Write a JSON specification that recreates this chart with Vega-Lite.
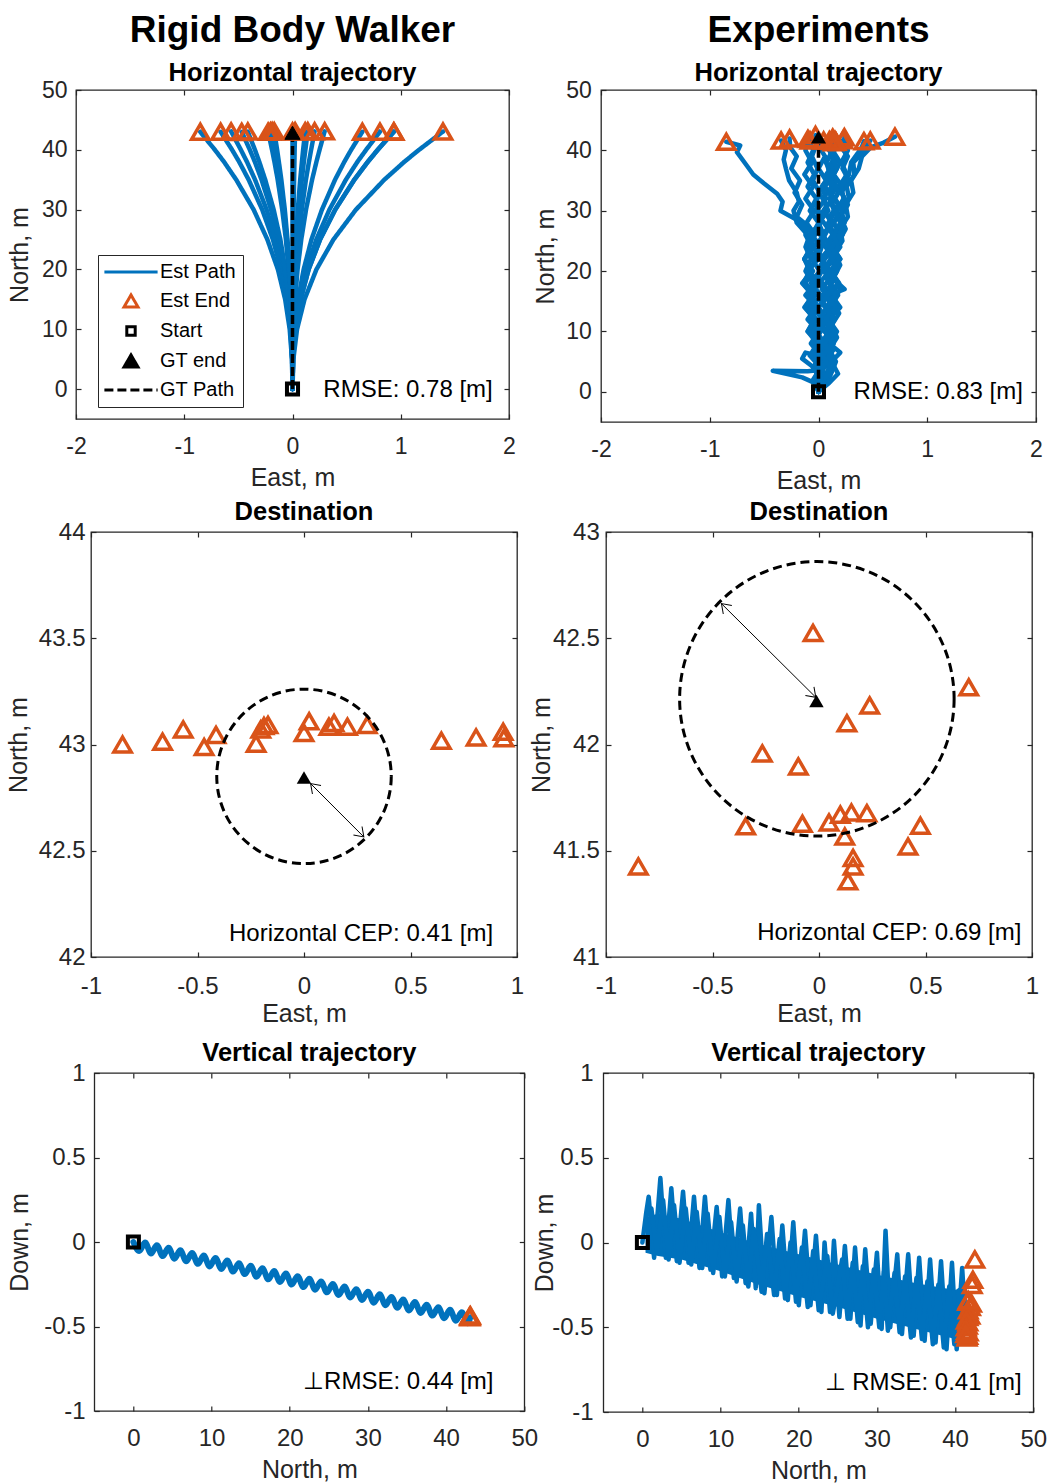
{
"$schema": "https://vega.github.io/schema/vega-lite/v6.json",
"padding": {"left": 5, "top": 10, "right": 5, "bottom": 0},
"background": "white",
"datasets": {
"tl": [
{"t":1,"e":0,"n":0},{"t":1,"e":-0.005,"n":5},{"t":1,"e":-0.026,"n":10},{"t":1,"e":-0.068,"n":15},{"t":1,"e":-0.135,"n":20},{"t":1,"e":-0.232,"n":25},{"t":1,"e":-0.359,"n":30},{"t":1,"e":-0.52,"n":35},{"t":1,"e":-0.633,"n":38},{"t":1,"e":-0.717,"n":40},{"t":1,"e":-0.852,"n":43.0},
{"t":2,"e":0,"n":0},{"t":2,"e":-0.004,"n":5},{"t":2,"e":-0.02,"n":10},{"t":2,"e":-0.053,"n":15},{"t":2,"e":-0.106,"n":20},{"t":2,"e":-0.181,"n":25},{"t":2,"e":-0.28,"n":30},{"t":2,"e":-0.405,"n":35},{"t":2,"e":-0.493,"n":38},{"t":2,"e":-0.558,"n":40},{"t":2,"e":-0.664,"n":43.013},
{"t":3,"e":0,"n":0},{"t":3,"e":-0.003,"n":5},{"t":3,"e":-0.017,"n":10},{"t":3,"e":-0.045,"n":15},{"t":3,"e":-0.09,"n":20},{"t":3,"e":-0.154,"n":25},{"t":3,"e":-0.239,"n":30},{"t":3,"e":-0.346,"n":35},{"t":3,"e":-0.421,"n":38},{"t":3,"e":-0.477,"n":40},{"t":3,"e":-0.567,"n":43.071},
{"t":4,"e":0,"n":0},{"t":4,"e":-0.003,"n":5},{"t":4,"e":-0.014,"n":10},{"t":4,"e":-0.038,"n":15},{"t":4,"e":-0.075,"n":20},{"t":4,"e":-0.128,"n":25},{"t":4,"e":-0.198,"n":30},{"t":4,"e":-0.286,"n":35},{"t":4,"e":-0.348,"n":38},{"t":4,"e":-0.394,"n":40},{"t":4,"e":-0.469,"n":42.988},
{"t":5,"e":0,"n":0},{"t":5,"e":-0.002,"n":5},{"t":5,"e":-0.012,"n":10},{"t":5,"e":-0.033,"n":15},{"t":5,"e":-0.066,"n":20},{"t":5,"e":-0.112,"n":25},{"t":5,"e":-0.174,"n":30},{"t":5,"e":-0.252,"n":35},{"t":5,"e":-0.307,"n":38},{"t":5,"e":-0.347,"n":40},{"t":5,"e":-0.413,"n":43.045},
{"t":6,"e":0,"n":0},{"t":6,"e":-0.001,"n":5},{"t":6,"e":-0.007,"n":10},{"t":6,"e":-0.018,"n":15},{"t":6,"e":-0.036,"n":20},{"t":6,"e":-0.061,"n":25},{"t":6,"e":-0.095,"n":30},{"t":6,"e":-0.137,"n":35},{"t":6,"e":-0.167,"n":38},{"t":6,"e":-0.189,"n":40},{"t":6,"e":-0.225,"n":43.004},
{"t":7,"e":0,"n":0},{"t":7,"e":-0.001,"n":5},{"t":7,"e":-0.006,"n":10},{"t":7,"e":-0.016,"n":15},{"t":7,"e":-0.032,"n":20},{"t":7,"e":-0.055,"n":25},{"t":7,"e":-0.086,"n":30},{"t":7,"e":-0.124,"n":35},{"t":7,"e":-0.151,"n":38},{"t":7,"e":-0.171,"n":40},{"t":7,"e":-0.203,"n":43.071},
{"t":8,"e":0,"n":0},{"t":8,"e":-0.001,"n":5},{"t":8,"e":-0.006,"n":10},{"t":8,"e":-0.015,"n":15},{"t":8,"e":-0.03,"n":20},{"t":8,"e":-0.051,"n":25},{"t":8,"e":-0.079,"n":30},{"t":8,"e":-0.115,"n":35},{"t":8,"e":-0.14,"n":38},{"t":8,"e":-0.158,"n":40},{"t":8,"e":-0.188,"n":43.087},
{"t":9,"e":0,"n":0},{"t":9,"e":-0.001,"n":5},{"t":9,"e":-0.005,"n":10},{"t":9,"e":-0.014,"n":15},{"t":9,"e":-0.027,"n":20},{"t":9,"e":-0.046,"n":25},{"t":9,"e":-0.071,"n":30},{"t":9,"e":-0.103,"n":35},{"t":9,"e":-0.126,"n":38},{"t":9,"e":-0.142,"n":40},{"t":9,"e":-0.169,"n":43.092},
{"t":10,"e":0,"n":0},{"t":10,"e":0,"n":43.054},
{"t":11,"e":0,"n":0},{"t":11,"e":0,"n":5},{"t":11,"e":0.001,"n":10},{"t":11,"e":0.002,"n":15},{"t":11,"e":0.004,"n":20},{"t":11,"e":0.007,"n":25},{"t":11,"e":0.01,"n":30},{"t":11,"e":0.015,"n":35},{"t":11,"e":0.018,"n":38},{"t":11,"e":0.02,"n":40},{"t":11,"e":0.024,"n":43.109},
{"t":12,"e":0,"n":0},{"t":12,"e":0.001,"n":5},{"t":12,"e":0.004,"n":10},{"t":12,"e":0.009,"n":15},{"t":12,"e":0.019,"n":20},{"t":12,"e":0.032,"n":25},{"t":12,"e":0.049,"n":30},{"t":12,"e":0.071,"n":35},{"t":12,"e":0.087,"n":38},{"t":12,"e":0.098,"n":40},{"t":12,"e":0.117,"n":43.084},
{"t":13,"e":0,"n":0},{"t":13,"e":0.001,"n":5},{"t":13,"e":0.004,"n":10},{"t":13,"e":0.011,"n":15},{"t":13,"e":0.022,"n":20},{"t":13,"e":0.038,"n":25},{"t":13,"e":0.059,"n":30},{"t":13,"e":0.086,"n":35},{"t":13,"e":0.105,"n":38},{"t":13,"e":0.119,"n":40},{"t":13,"e":0.141,"n":43.101},
{"t":14,"e":0,"n":0},{"t":14,"e":0.001,"n":5},{"t":14,"e":0.006,"n":10},{"t":14,"e":0.016,"n":15},{"t":14,"e":0.032,"n":20},{"t":14,"e":0.055,"n":25},{"t":14,"e":0.086,"n":30},{"t":14,"e":0.124,"n":35},{"t":14,"e":0.152,"n":38},{"t":14,"e":0.172,"n":40},{"t":14,"e":0.204,"n":43.084},
{"t":15,"e":0,"n":0},{"t":15,"e":0.002,"n":5},{"t":15,"e":0.009,"n":10},{"t":15,"e":0.024,"n":15},{"t":15,"e":0.047,"n":20},{"t":15,"e":0.081,"n":25},{"t":15,"e":0.125,"n":30},{"t":15,"e":0.181,"n":35},{"t":15,"e":0.221,"n":38},{"t":15,"e":0.25,"n":40},{"t":15,"e":0.297,"n":43.092},
{"t":16,"e":0,"n":0},{"t":16,"e":0.004,"n":5},{"t":16,"e":0.019,"n":10},{"t":16,"e":0.052,"n":15},{"t":16,"e":0.103,"n":20},{"t":16,"e":0.175,"n":25},{"t":16,"e":0.272,"n":30},{"t":16,"e":0.393,"n":35},{"t":16,"e":0.479,"n":38},{"t":16,"e":0.542,"n":40},{"t":16,"e":0.645,"n":43.018},
{"t":17,"e":0,"n":0},{"t":17,"e":0.005,"n":5},{"t":17,"e":0.024,"n":10},{"t":17,"e":0.065,"n":15},{"t":17,"e":0.128,"n":20},{"t":17,"e":0.22,"n":25},{"t":17,"e":0.341,"n":30},{"t":17,"e":0.493,"n":35},{"t":17,"e":0.6,"n":38},{"t":17,"e":0.68,"n":40},{"t":17,"e":0.808,"n":43.033},
{"t":18,"e":0,"n":0},{"t":18,"e":0.005,"n":5},{"t":18,"e":0.028,"n":10},{"t":18,"e":0.075,"n":15},{"t":18,"e":0.149,"n":20},{"t":18,"e":0.254,"n":25},{"t":18,"e":0.394,"n":30},{"t":18,"e":0.57,"n":35},{"t":18,"e":0.695,"n":38},{"t":18,"e":0.786,"n":40},{"t":18,"e":0.935,"n":43.06},
{"t":19,"e":0,"n":0},{"t":19,"e":0.005,"n":5},{"t":19,"e":0.028,"n":10},{"t":19,"e":0.075,"n":15},{"t":19,"e":0.149,"n":20},{"t":19,"e":0.255,"n":25},{"t":19,"e":0.395,"n":30},{"t":19,"e":0.572,"n":35},{"t":19,"e":0.697,"n":38},{"t":19,"e":0.789,"n":40},{"t":19,"e":0.938,"n":43.03},
{"t":20,"e":0,"n":0},{"t":20,"e":0.008,"n":5},{"t":20,"e":0.042,"n":10},{"t":20,"e":0.111,"n":15},{"t":20,"e":0.221,"n":20},{"t":20,"e":0.378,"n":25},{"t":20,"e":0.586,"n":30},{"t":20,"e":0.848,"n":35},{"t":20,"e":1.033,"n":38},{"t":20,"e":1.169,"n":40},{"t":20,"e":1.39,"n":43.05}
],
"tlEnd": [
{"e":-0.852,"n":43.0},{"e":-0.664,"n":43.013},{"e":-0.567,"n":43.071},{"e":-0.469,"n":42.988},{"e":-0.413,"n":43.045},{"e":-0.225,"n":43.004},{"e":-0.203,"n":43.071},{"e":-0.188,"n":43.087},{"e":-0.169,"n":43.092},{"e":0,"n":43.054},{"e":0.024,"n":43.109},{"e":0.117,"n":43.084},{"e":0.141,"n":43.101},{"e":0.204,"n":43.084},{"e":0.297,"n":43.092},{"e":0.645,"n":43.018},{"e":0.808,"n":43.033},{"e":0.935,"n":43.06},{"e":0.938,"n":43.03},{"e":1.39,"n":43.05}
],
"tr": [
{"t":1,"e":0,"n":0},{"t":1,"e":0.05,"n":1.5},{"t":1,"e":0.02,"n":3.2},{"t":1,"e":0.08,"n":5},{"t":1,"e":0.03,"n":7},{"t":1,"e":0.09,"n":9},{"t":1,"e":0.04,"n":11},{"t":1,"e":0.1,"n":13},{"t":1,"e":0.02,"n":15},{"t":1,"e":0.07,"n":17},{"t":1,"e":0.0,"n":19},{"t":1,"e":0.06,"n":21},{"t":1,"e":0.01,"n":23},{"t":1,"e":0.05,"n":25},{"t":1,"e":-0.02,"n":27},{"t":1,"e":0.03,"n":29},{"t":1,"e":-0.03,"n":31},{"t":1,"e":0.01,"n":33},{"t":1,"e":-0.05,"n":35},{"t":1,"e":-0.01,"n":37},{"t":1,"e":-0.06,"n":39},{"t":1,"e":-0.02,"n":41},{"t":1,"e":-0.028,"n":42.525},
{"t":2,"e":0,"n":0},{"t":2,"e":0.08,"n":1.5},{"t":2,"e":0.12,"n":3.2},{"t":2,"e":0.16,"n":5},{"t":2,"e":0.1,"n":7},{"t":2,"e":0.17,"n":9},{"t":2,"e":0.12,"n":11},{"t":2,"e":0.19,"n":13},{"t":2,"e":0.13,"n":15},{"t":2,"e":0.2,"n":17},{"t":2,"e":0.14,"n":19},{"t":2,"e":0.2,"n":21},{"t":2,"e":0.15,"n":23},{"t":2,"e":0.22,"n":25},{"t":2,"e":0.2,"n":27},{"t":2,"e":0.27,"n":29},{"t":2,"e":0.25,"n":31},{"t":2,"e":0.32,"n":33},{"t":2,"e":0.3,"n":35},{"t":2,"e":0.37,"n":37},{"t":2,"e":0.4,"n":39},{"t":2,"e":0.48,"n":40.5},{"t":2,"e":0.6,"n":41.3},{"t":2,"e":0.703,"n":42.269},
{"t":3,"e":0,"n":0},{"t":3,"e":0.0,"n":1.2},{"t":3,"e":-0.15,"n":2.4},{"t":3,"e":-0.42,"n":3.5},{"t":3,"e":-0.1,"n":3.4},{"t":3,"e":0.02,"n":3.6},{"t":3,"e":0.1,"n":4.6},{"t":3,"e":0.05,"n":6},{"t":3,"e":0.14,"n":8},{"t":3,"e":0.08,"n":10},{"t":3,"e":0.15,"n":12},{"t":3,"e":0.1,"n":14},{"t":3,"e":0.18,"n":16},{"t":3,"e":0.11,"n":18},{"t":3,"e":0.17,"n":20},{"t":3,"e":0.12,"n":22},{"t":3,"e":0.2,"n":24},{"t":3,"e":0.15,"n":26},{"t":3,"e":0.22,"n":28},{"t":3,"e":0.17,"n":30},{"t":3,"e":0.24,"n":32},{"t":3,"e":0.19,"n":34},{"t":3,"e":0.26,"n":36},{"t":3,"e":0.21,"n":38},{"t":3,"e":0.27,"n":40},{"t":3,"e":0.238,"n":42.184},
{"t":4,"e":0,"n":0},{"t":4,"e":0.06,"n":2},{"t":4,"e":0.0,"n":4},{"t":4,"e":0.09,"n":6},{"t":4,"e":0.03,"n":8},{"t":4,"e":0.11,"n":10},{"t":4,"e":0.05,"n":12},{"t":4,"e":0.13,"n":14},{"t":4,"e":0.06,"n":16},{"t":4,"e":0.12,"n":18},{"t":4,"e":0.05,"n":20},{"t":4,"e":0.14,"n":22},{"t":4,"e":0.08,"n":24},{"t":4,"e":0.15,"n":26},{"t":4,"e":0.09,"n":28},{"t":4,"e":0.16,"n":30},{"t":4,"e":0.1,"n":32},{"t":4,"e":0.17,"n":34},{"t":4,"e":0.11,"n":36},{"t":4,"e":0.16,"n":38},{"t":4,"e":0.1,"n":40},{"t":4,"e":0.131,"n":42.1},
{"t":5,"e":0,"n":0},{"t":5,"e":-0.04,"n":2},{"t":5,"e":0.03,"n":4},{"t":5,"e":-0.06,"n":6},{"t":5,"e":0.01,"n":8},{"t":5,"e":-0.08,"n":10},{"t":5,"e":-0.02,"n":12},{"t":5,"e":-0.1,"n":14},{"t":5,"e":-0.03,"n":16},{"t":5,"e":-0.12,"n":18},{"t":5,"e":-0.05,"n":20},{"t":5,"e":-0.13,"n":22},{"t":5,"e":-0.06,"n":24},{"t":5,"e":-0.12,"n":26},{"t":5,"e":-0.1,"n":27.5},{"t":5,"e":-0.2,"n":29},{"t":5,"e":-0.15,"n":31},{"t":5,"e":-0.22,"n":33},{"t":5,"e":-0.17,"n":35},{"t":5,"e":-0.25,"n":37},{"t":5,"e":-0.2,"n":39},{"t":5,"e":-0.26,"n":40.5},{"t":5,"e":-0.266,"n":41.958},
{"t":6,"e":0,"n":0},{"t":6,"e":0.02,"n":2},{"t":6,"e":-0.05,"n":4},{"t":6,"e":0.03,"n":6},{"t":6,"e":-0.06,"n":8},{"t":6,"e":0.02,"n":10},{"t":6,"e":-0.08,"n":12},{"t":6,"e":0.0,"n":14},{"t":6,"e":-0.07,"n":16},{"t":6,"e":0.01,"n":18},{"t":6,"e":-0.09,"n":20},{"t":6,"e":-0.02,"n":22},{"t":6,"e":-0.1,"n":24},{"t":6,"e":-0.03,"n":26},{"t":6,"e":-0.11,"n":28},{"t":6,"e":-0.04,"n":30},{"t":6,"e":-0.12,"n":32},{"t":6,"e":-0.05,"n":34},{"t":6,"e":-0.13,"n":36},{"t":6,"e":-0.06,"n":38},{"t":6,"e":-0.12,"n":40},{"t":6,"e":-0.097,"n":41.897},
{"t":7,"e":0,"n":0},{"t":7,"e":0.05,"n":2},{"t":7,"e":-0.02,"n":4},{"t":7,"e":0.04,"n":6},{"t":7,"e":-0.05,"n":8},{"t":7,"e":0.02,"n":10},{"t":7,"e":-0.08,"n":12},{"t":7,"e":-0.02,"n":14},{"t":7,"e":-0.1,"n":16},{"t":7,"e":-0.05,"n":18},{"t":7,"e":-0.12,"n":20},{"t":7,"e":-0.07,"n":22},{"t":7,"e":-0.12,"n":24},{"t":7,"e":-0.07,"n":26.5},{"t":7,"e":-0.2,"n":28.5},{"t":7,"e":-0.35,"n":30},{"t":7,"e":-0.33,"n":31.5},{"t":7,"e":-0.38,"n":32.8},{"t":7,"e":-0.5,"n":34.5},{"t":7,"e":-0.6,"n":36},{"t":7,"e":-0.66,"n":37.5},{"t":7,"e":-0.75,"n":39.7},{"t":7,"e":-0.72,"n":40.8},{"t":7,"e":-0.848,"n":41.426},
{"t":8,"e":0,"n":0},{"t":8,"e":-0.03,"n":2},{"t":8,"e":0.04,"n":4},{"t":8,"e":-0.05,"n":6},{"t":8,"e":0.02,"n":8},{"t":8,"e":-0.1,"n":10},{"t":8,"e":-0.04,"n":12},{"t":8,"e":-0.12,"n":14},{"t":8,"e":-0.06,"n":16},{"t":8,"e":-0.14,"n":18},{"t":8,"e":-0.08,"n":20},{"t":8,"e":-0.13,"n":22},{"t":8,"e":-0.07,"n":24},{"t":8,"e":-0.1,"n":26},{"t":8,"e":-0.2,"n":28},{"t":8,"e":-0.23,"n":30},{"t":8,"e":-0.18,"n":31.5},{"t":8,"e":-0.2,"n":33},{"t":8,"e":-0.27,"n":35},{"t":8,"e":-0.3,"n":37},{"t":8,"e":-0.32,"n":38.5},{"t":8,"e":-0.3,"n":40},{"t":8,"e":-0.344,"n":41.615},
{"t":9,"e":0,"n":0},{"t":9,"e":0.02,"n":2},{"t":9,"e":-0.04,"n":4},{"t":9,"e":-0.15,"n":5.5},{"t":9,"e":-0.12,"n":6.5},{"t":9,"e":0.0,"n":6},{"t":9,"e":0.03,"n":8},{"t":9,"e":-0.05,"n":10},{"t":9,"e":0.04,"n":12},{"t":9,"e":-0.06,"n":14},{"t":9,"e":0.02,"n":16},{"t":9,"e":-0.07,"n":18},{"t":9,"e":0.01,"n":20},{"t":9,"e":-0.06,"n":22},{"t":9,"e":0.02,"n":24},{"t":9,"e":-0.06,"n":26},{"t":9,"e":0.0,"n":28},{"t":9,"e":-0.08,"n":30},{"t":9,"e":-0.02,"n":32},{"t":9,"e":-0.1,"n":34},{"t":9,"e":-0.04,"n":36},{"t":9,"e":-0.1,"n":38},{"t":9,"e":-0.05,"n":40},{"t":9,"e":-0.078,"n":41.627},
{"t":10,"e":0,"n":0},{"t":10,"e":0.06,"n":2},{"t":10,"e":0.12,"n":3.5},{"t":10,"e":0.05,"n":5},{"t":10,"e":0.14,"n":7},{"t":10,"e":0.06,"n":9},{"t":10,"e":0.13,"n":11},{"t":10,"e":0.04,"n":13},{"t":10,"e":0.12,"n":15},{"t":10,"e":0.03,"n":17},{"t":10,"e":0.11,"n":19},{"t":10,"e":0.02,"n":21},{"t":10,"e":0.1,"n":23},{"t":10,"e":0.03,"n":25},{"t":10,"e":0.09,"n":27},{"t":10,"e":0.01,"n":29},{"t":10,"e":0.08,"n":31},{"t":10,"e":0.0,"n":33},{"t":10,"e":0.07,"n":35},{"t":10,"e":0.0,"n":37},{"t":10,"e":0.06,"n":39},{"t":10,"e":0.01,"n":40.5},{"t":10,"e":0.047,"n":41.633},
{"t":11,"e":0,"n":0},{"t":11,"e":0.04,"n":2},{"t":11,"e":0.1,"n":4},{"t":11,"e":0.04,"n":6},{"t":11,"e":0.12,"n":8},{"t":11,"e":0.06,"n":10},{"t":11,"e":0.15,"n":12},{"t":11,"e":0.08,"n":14},{"t":11,"e":0.16,"n":15.5},{"t":11,"e":0.09,"n":17},{"t":11,"e":0.15,"n":19},{"t":11,"e":0.07,"n":21},{"t":11,"e":0.16,"n":23},{"t":11,"e":0.09,"n":25},{"t":11,"e":0.17,"n":27},{"t":11,"e":0.1,"n":29},{"t":11,"e":0.18,"n":31},{"t":11,"e":0.1,"n":33},{"t":11,"e":0.16,"n":35},{"t":11,"e":0.09,"n":37},{"t":11,"e":0.15,"n":39},{"t":11,"e":0.08,"n":40.5},{"t":11,"e":0.1,"n":41.67},
{"t":12,"e":0,"n":0},{"t":12,"e":0.1,"n":1.5},{"t":12,"e":0.18,"n":3},{"t":12,"e":0.12,"n":5},{"t":12,"e":0.2,"n":6.5},{"t":12,"e":0.1,"n":8},{"t":12,"e":0.17,"n":10},{"t":12,"e":0.09,"n":12},{"t":12,"e":0.2,"n":14},{"t":12,"e":0.12,"n":16},{"t":12,"e":0.19,"n":18},{"t":12,"e":0.11,"n":20},{"t":12,"e":0.2,"n":22},{"t":12,"e":0.12,"n":24},{"t":12,"e":0.22,"n":26},{"t":12,"e":0.14,"n":28},{"t":12,"e":0.23,"n":30},{"t":12,"e":0.15,"n":32},{"t":12,"e":0.22,"n":34},{"t":12,"e":0.14,"n":36},{"t":12,"e":0.2,"n":38},{"t":12,"e":0.13,"n":40},{"t":12,"e":0.152,"n":41.68},
{"t":13,"e":0,"n":0},{"t":13,"e":0.07,"n":2},{"t":13,"e":0.02,"n":4},{"t":13,"e":0.1,"n":6},{"t":13,"e":0.05,"n":8},{"t":13,"e":0.14,"n":10},{"t":13,"e":0.07,"n":12},{"t":13,"e":0.15,"n":14},{"t":13,"e":0.1,"n":16},{"t":13,"e":0.24,"n":17},{"t":13,"e":0.12,"n":19},{"t":13,"e":0.18,"n":21},{"t":13,"e":0.1,"n":23},{"t":13,"e":0.19,"n":25},{"t":13,"e":0.25,"n":27},{"t":13,"e":0.2,"n":29},{"t":13,"e":0.27,"n":31},{"t":13,"e":0.21,"n":33},{"t":13,"e":0.28,"n":35},{"t":13,"e":0.22,"n":37},{"t":13,"e":0.27,"n":39},{"t":13,"e":0.21,"n":40.5},{"t":13,"e":0.225,"n":41.677},
{"t":14,"e":0,"n":0},{"t":14,"e":0.08,"n":2},{"t":14,"e":0.03,"n":4},{"t":14,"e":0.12,"n":6},{"t":14,"e":0.06,"n":8},{"t":14,"e":0.15,"n":10},{"t":14,"e":0.08,"n":12},{"t":14,"e":0.16,"n":14},{"t":14,"e":0.09,"n":16},{"t":14,"e":0.18,"n":18},{"t":14,"e":0.12,"n":20},{"t":14,"e":0.2,"n":22},{"t":14,"e":0.13,"n":24},{"t":14,"e":0.18,"n":26},{"t":14,"e":0.24,"n":28},{"t":14,"e":0.21,"n":30},{"t":14,"e":0.28,"n":32},{"t":14,"e":0.26,"n":34},{"t":14,"e":0.33,"n":36},{"t":14,"e":0.32,"n":38},{"t":14,"e":0.4,"n":39.5},{"t":14,"e":0.43,"n":40.6},{"t":14,"e":0.476,"n":41.618},
{"t":15,"e":0,"n":0},{"t":15,"e":-0.02,"n":2},{"t":15,"e":0.05,"n":4},{"t":15,"e":-0.03,"n":6},{"t":15,"e":0.06,"n":8},{"t":15,"e":-0.02,"n":10},{"t":15,"e":0.08,"n":12},{"t":15,"e":0.0,"n":14},{"t":15,"e":0.09,"n":16},{"t":15,"e":0.01,"n":18},{"t":15,"e":0.1,"n":20},{"t":15,"e":0.02,"n":22},{"t":15,"e":0.11,"n":24},{"t":15,"e":0.04,"n":26},{"t":15,"e":0.12,"n":28},{"t":15,"e":0.05,"n":30},{"t":15,"e":0.13,"n":32},{"t":15,"e":0.06,"n":34},{"t":15,"e":0.14,"n":36},{"t":15,"e":0.07,"n":38},{"t":15,"e":0.13,"n":40},{"t":15,"e":0.121,"n":41.567},
{"t":16,"e":0,"n":0},{"t":16,"e":0.05,"n":2},{"t":16,"e":0.11,"n":4},{"t":16,"e":0.04,"n":6},{"t":16,"e":0.13,"n":8},{"t":16,"e":0.06,"n":10},{"t":16,"e":0.14,"n":12},{"t":16,"e":0.07,"n":14},{"t":16,"e":0.15,"n":16},{"t":16,"e":0.1,"n":18},{"t":16,"e":0.17,"n":20},{"t":16,"e":0.11,"n":22},{"t":16,"e":0.18,"n":24},{"t":16,"e":0.14,"n":26},{"t":16,"e":0.2,"n":28},{"t":16,"e":0.17,"n":30},{"t":16,"e":0.23,"n":32},{"t":16,"e":0.21,"n":34},{"t":16,"e":0.28,"n":36},{"t":16,"e":0.3,"n":38},{"t":16,"e":0.36,"n":39.5},{"t":16,"e":0.4,"n":40.6},{"t":16,"e":0.418,"n":41.52},
{"t":17,"e":0,"n":0},{"t":17,"e":0.03,"n":2},{"t":17,"e":-0.05,"n":4},{"t":17,"e":0.02,"n":6},{"t":17,"e":-0.07,"n":8},{"t":17,"e":0.0,"n":10},{"t":17,"e":-0.1,"n":12},{"t":17,"e":-0.02,"n":14},{"t":17,"e":-0.12,"n":16},{"t":17,"e":-0.03,"n":18},{"t":17,"e":-0.1,"n":20},{"t":17,"e":0.0,"n":22},{"t":17,"e":-0.04,"n":24},{"t":17,"e":0.05,"n":26},{"t":17,"e":0.0,"n":28},{"t":17,"e":0.09,"n":30},{"t":17,"e":0.04,"n":32},{"t":17,"e":0.12,"n":34},{"t":17,"e":0.07,"n":36},{"t":17,"e":0.15,"n":38},{"t":17,"e":0.1,"n":40},{"t":17,"e":0.16,"n":41.466},
{"t":18,"e":0,"n":0},{"t":18,"e":-0.05,"n":2},{"t":18,"e":0.02,"n":4},{"t":18,"e":-0.08,"n":6},{"t":18,"e":-0.01,"n":8},{"t":18,"e":-0.1,"n":10},{"t":18,"e":-0.03,"n":12},{"t":18,"e":-0.13,"n":14},{"t":18,"e":-0.05,"n":16},{"t":18,"e":-0.15,"n":18},{"t":18,"e":-0.06,"n":20},{"t":18,"e":-0.13,"n":22},{"t":18,"e":-0.04,"n":24},{"t":18,"e":-0.08,"n":26},{"t":18,"e":0.02,"n":28},{"t":18,"e":-0.02,"n":30},{"t":18,"e":0.07,"n":32},{"t":18,"e":0.03,"n":34},{"t":18,"e":0.11,"n":36},{"t":18,"e":0.07,"n":38},{"t":18,"e":0.14,"n":40},{"t":18,"e":0.16,"n":41.426},
{"t":19,"e":0,"n":0},{"t":19,"e":0.04,"n":1.5},{"t":19,"e":0.0,"n":3},{"t":19,"e":0.07,"n":5},{"t":19,"e":0.01,"n":7},{"t":19,"e":0.09,"n":9},{"t":19,"e":0.03,"n":11},{"t":19,"e":0.1,"n":13},{"t":19,"e":0.04,"n":15},{"t":19,"e":0.13,"n":17},{"t":19,"e":0.07,"n":19},{"t":19,"e":0.15,"n":21},{"t":19,"e":0.09,"n":23},{"t":19,"e":0.16,"n":25},{"t":19,"e":0.1,"n":27},{"t":19,"e":0.17,"n":29},{"t":19,"e":0.12,"n":31},{"t":19,"e":0.18,"n":33},{"t":19,"e":0.11,"n":35},{"t":19,"e":0.17,"n":37},{"t":19,"e":0.12,"n":39},{"t":19,"e":0.16,"n":40.5},{"t":19,"e":0.136,"n":41.356}
],
"trEnd": [
{"e":-0.028,"n":42.525,"d":-0.1},{"e":0.703,"n":42.269,"d":-0.22},{"e":0.238,"n":42.184,"d":-0.25},{"e":0.131,"n":42.1,"d":-0.36},{"e":-0.266,"n":41.958,"d":-0.38},{"e":-0.097,"n":41.897,"d":-0.43},{"e":-0.848,"n":41.426,"d":-0.5},{"e":-0.344,"n":41.615,"d":-0.35},{"e":-0.078,"n":41.627,"d":-0.47},{"e":0.047,"n":41.633,"d":-0.44},{"e":0.1,"n":41.67,"d":-0.4},{"e":0.152,"n":41.68,"d":-0.53},{"e":0.225,"n":41.677,"d":-0.34},{"e":0.476,"n":41.618,"d":-0.55},{"e":0.121,"n":41.567,"d":-0.49},{"e":0.418,"n":41.52,"d":-0.56},{"e":0.16,"n":41.466,"d":-0.52},{"e":0.16,"n":41.426,"d":-0.46},{"e":0.136,"n":41.356,"d":-0.54}
],
"bl": [
{"n":0,"d":0},{"n":0.75,"d":-0.053},{"n":1.5,"d":-0.003},{"n":2.25,"d":-0.068},{"n":3,"d":-0.019},{"n":3.75,"d":-0.083},{"n":4.5,"d":-0.034},{"n":5.25,"d":-0.099},{"n":6,"d":-0.049},{"n":6.75,"d":-0.114},{"n":7.5,"d":-0.065},{"n":8.25,"d":-0.129},{"n":9,"d":-0.08},{"n":9.75,"d":-0.145},{"n":10.5,"d":-0.095},{"n":11.25,"d":-0.16},{"n":12,"d":-0.11},{"n":12.75,"d":-0.175},{"n":13.5,"d":-0.126},{"n":14.25,"d":-0.19},{"n":15,"d":-0.141},{"n":15.75,"d":-0.206},{"n":16.5,"d":-0.156},{"n":17.25,"d":-0.221},{"n":18,"d":-0.172},{"n":18.75,"d":-0.236},{"n":19.5,"d":-0.187},{"n":20.25,"d":-0.252},{"n":21,"d":-0.202},{"n":21.75,"d":-0.267},{"n":22.5,"d":-0.218},{"n":23.25,"d":-0.282},{"n":24,"d":-0.233},{"n":24.75,"d":-0.298},{"n":25.5,"d":-0.248},{"n":26.25,"d":-0.313},{"n":27,"d":-0.263},{"n":27.75,"d":-0.328},{"n":28.5,"d":-0.279},{"n":29.25,"d":-0.343},{"n":30,"d":-0.294},{"n":30.75,"d":-0.359},{"n":31.5,"d":-0.309},{"n":32.25,"d":-0.374},{"n":33,"d":-0.325},{"n":33.75,"d":-0.389},{"n":34.5,"d":-0.34},{"n":35.25,"d":-0.405},{"n":36,"d":-0.355},{"n":36.75,"d":-0.42},{"n":37.5,"d":-0.371},{"n":38.25,"d":-0.435},{"n":39,"d":-0.386},{"n":39.75,"d":-0.451},{"n":40.5,"d":-0.401},{"n":41.25,"d":-0.466},{"n":42,"d":-0.416},{"n":42.75,"d":-0.481},{"n":43.1,"d":-0.445}
],
"blEnd": [
{"n":43.0,"d":-0.44},{"n":43.1,"d":-0.435},{"n":43.05,"d":-0.445},{"n":43.09,"d":-0.44}
],
"brCore": [
{"n":0.4,"lo":-0.06,"hi":0.15},{"n":2,"lo":-0.08,"hi":0.17},{"n":5,"lo":-0.1,"hi":0.14},{"n":10,"lo":-0.17,"hi":0.06},{"n":15,"lo":-0.25,"hi":-0.01},{"n":20,"lo":-0.32,"hi":-0.07},{"n":25,"lo":-0.38,"hi":-0.13},{"n":30,"lo":-0.45,"hi":-0.19},{"n":35,"lo":-0.51,"hi":-0.24},{"n":40,"lo":-0.57,"hi":-0.28},{"n":41.5,"lo":-0.52,"hi":-0.25}
],
"br": [
{"t":1,"n":0,"d":0},{"t":1,"n":0.5,"d":0.18},{"t":1,"n":0.8,"d":0.27},{"t":1,"n":1.5,"d":-0.09},{"t":1,"n":2.3,"d":0.38},{"t":1,"n":3.0,"d":-0.09},{"t":1,"n":3.7,"d":0.32},{"t":1,"n":4.4,"d":-0.11},{"t":1,"n":5.2,"d":0.3},{"t":1,"n":5.9,"d":-0.12},{"t":1,"n":6.6,"d":0.27},{"t":1,"n":7.3,"d":-0.15},{"t":1,"n":8.0,"d":0.27},{"t":1,"n":8.7,"d":-0.16},{"t":1,"n":9.5,"d":0.21},{"t":1,"n":10.2,"d":-0.2},{"t":1,"n":11.0,"d":0.25},{"t":1,"n":11.7,"d":-0.21},{"t":1,"n":12.5,"d":0.2},{"t":1,"n":13.2,"d":-0.24},{"t":1,"n":13.9,"d":0.17},{"t":1,"n":14.5,"d":-0.27},{"t":1,"n":14.9,"d":0.22},{"t":1,"n":15.6,"d":-0.3},{"t":1,"n":16.5,"d":0.15},{"t":1,"n":17.2,"d":-0.31},{"t":1,"n":17.9,"d":0.1},{"t":1,"n":18.6,"d":-0.34},{"t":1,"n":19.3,"d":0.12},{"t":1,"n":20.0,"d":-0.37},{"t":1,"n":20.8,"d":0.07},{"t":1,"n":21.5,"d":-0.37},{"t":1,"n":22.2,"d":0.04},{"t":1,"n":22.9,"d":-0.41},{"t":1,"n":23.3,"d":0.0},{"t":1,"n":24.0,"d":-0.41},{"t":1,"n":24.5,"d":0.01},{"t":1,"n":25.2,"d":-0.44},{"t":1,"n":25.9,"d":-0.02},{"t":1,"n":26.6,"d":-0.45},{"t":1,"n":27.2,"d":-0.03},{"t":1,"n":27.9,"d":-0.49},{"t":1,"n":28.5,"d":-0.04},{"t":1,"n":29.2,"d":-0.48},{"t":1,"n":30.0,"d":-0.06},{"t":1,"n":30.6,"d":-0.51},{"t":1,"n":31.1,"d":0.07},{"t":1,"n":31.7,"d":-0.5},{"t":1,"n":32.6,"d":-0.07},{"t":1,"n":33.2,"d":-0.54},{"t":1,"n":34.0,"d":-0.07},{"t":1,"n":34.7,"d":-0.55},{"t":1,"n":35.4,"d":-0.09},{"t":1,"n":36.1,"d":-0.58},{"t":1,"n":36.8,"d":-0.1},{"t":1,"n":37.5,"d":-0.59},{"t":1,"n":38.2,"d":-0.11},{"t":1,"n":38.9,"d":-0.63},{"t":1,"n":39.6,"d":-0.12},{"t":1,"n":40.2,"d":-0.63},{"t":1,"n":40.9,"d":-0.15},{"t":1,"n":41.3,"d":-0.45},
{"t":2,"n":1.15,"d":0.2},{"t":2,"n":1.85,"d":-0.06},{"t":2,"n":2.65,"d":0.25},{"t":2,"n":3.35,"d":-0.1},{"t":2,"n":4.05,"d":0.22},{"t":2,"n":4.75,"d":-0.12},{"t":2,"n":5.55,"d":0.2},{"t":2,"n":6.25,"d":-0.13},{"t":2,"n":6.95,"d":0.18},{"t":2,"n":7.65,"d":-0.15},{"t":2,"n":8.35,"d":0.17},{"t":2,"n":9.05,"d":-0.18},{"t":2,"n":9.85,"d":0.15},{"t":2,"n":10.55,"d":-0.2},{"t":2,"n":11.35,"d":0.12},{"t":2,"n":12.05,"d":-0.23},{"t":2,"n":12.85,"d":0.1},{"t":2,"n":13.55,"d":-0.26},{"t":2,"n":14.25,"d":0.08},{"t":2,"n":15.25,"d":-0.29},{"t":2,"n":15.95,"d":0.05},{"t":2,"n":16.85,"d":-0.31},{"t":2,"n":17.55,"d":0.02},{"t":2,"n":18.25,"d":-0.33},{"t":2,"n":18.95,"d":0.0},{"t":2,"n":19.65,"d":-0.35},{"t":2,"n":20.4,"d":-0.03},{"t":2,"n":21.15,"d":-0.38},{"t":2,"n":21.85,"d":-0.05},{"t":2,"n":22.55,"d":-0.4},{"t":2,"n":23.65,"d":-0.08},{"t":2,"n":24.35,"d":-0.42},{"t":2,"n":25.55,"d":-0.1},{"t":2,"n":26.25,"d":-0.45},{"t":2,"n":26.9,"d":-0.12},{"t":2,"n":27.55,"d":-0.47},{"t":2,"n":28.2,"d":-0.14},{"t":2,"n":28.85,"d":-0.5},{"t":2,"n":29.6,"d":-0.16},{"t":2,"n":30.3,"d":-0.5},{"t":2,"n":30.9,"d":-0.17},{"t":2,"n":31.4,"d":-0.52},{"t":2,"n":32.25,"d":-0.18},{"t":2,"n":32.9,"d":-0.53},{"t":2,"n":33.6,"d":-0.2},{"t":2,"n":34.35,"d":-0.56},{"t":2,"n":35.05,"d":-0.21},{"t":2,"n":35.75,"d":-0.57},{"t":2,"n":36.45,"d":-0.23},{"t":2,"n":37.15,"d":-0.6},{"t":2,"n":37.85,"d":-0.25},{"t":2,"n":38.55,"d":-0.62},{"t":2,"n":39.25,"d":-0.26},{"t":2,"n":39.9,"d":-0.6},{"t":2,"n":40.55,"d":-0.28},{"t":2,"n":41.2,"d":-0.5}
]
},
"concat": [
{"hconcat": [
{"width": 1, "height": 1, "data": {"values": []}, "mark": {"type": "point", "opacity": 0}, "view": {"stroke": null}},
{"hconcat": [
{
"width": 433, "height": 329,
"title": {"text": "Rigid Body Walker", "subtitle": "Horizontal trajectory", "fontSize": 37, "offset": -8, "subtitlePadding": 11},
"layer": [
{"data": {"name": "tl"},
 "mark": {"type": "line", "strokeWidth": 4.5, "strokeJoin": "round", "strokeCap": "round"},
 "encoding": {
  "x": {"field": "e", "type": "quantitative", "scale": {"domain": [-2, 2]}, "axis": {"values": [-2, -1, 0, 1, 2], "title": "East, m", "labelPadding": 21, "titlePadding": 7}},
  "y": {"field": "n", "type": "quantitative", "scale": {"domain": [-5, 50]}, "axis": {"values": [0, 10, 20, 30, 40, 50], "title": "North, m", "labelPadding": 14, "titlePadding": 9.4}},
  "detail": {"field": "t", "type": "nominal"},
  "order": {"value": null},
  "stroke": {"datum": "Est Path", "type": "nominal",
    "scale": {"domain": ["Est Path", "Est End", "Start", "GT end", "GT Path"], "range": ["#0072BD", "#D95319", "black", "black", "black"]},
    "legend": {"title": null, "orient": "none", "legendX": 93, "legendY": 165, "strokeColor": "#262626", "fillColor": "white", "padding": 7, "labelFont": "Liberation Sans", "labelFontSize": 20, "labelColor": "black", "symbolSize": 196, "symbolStrokeWidth": 3, "symbolOpacity": 1, "symbolOffset": 16, "labelOffset": 19, "rowPadding": 6}},
  "strokeDash": {"datum": "Est Path", "type": "nominal",
    "scale": {"domain": ["Est Path", "Est End", "Start", "GT end", "GT Path"], "range": [[1, 0], [1, 0], [1, 0], [1, 0], [9, 4]]}}
 }},
{"data": {"values": [{"e": 0, "n": 0}, {"e": 0, "n": 42.85}]},
 "mark": {"type": "line", "strokeWidth": 3.5},
 "encoding": {
  "x": {"field": "e", "type": "quantitative", "axis": null},
  "y": {"field": "n", "type": "quantitative", "axis": null},
  "order": {"value": null},
  "stroke": {"datum": "GT Path", "type": "nominal"},
  "strokeDash": {"datum": "GT Path", "type": "nominal"}
 }},
{"data": {"name": "tlEnd"},
 "mark": {"type": "point", "strokeWidth": 3.5, "opacity": 1, "size": 300},
 "encoding": {
  "x": {"field": "e", "type": "quantitative", "axis": null},
  "y": {"field": "n", "type": "quantitative", "axis": null},
  "stroke": {"datum": "Est End", "type": "nominal"},
  "shape": {"datum": "Est End", "type": "nominal", "scale": {"domain": ["Est Path", "Est End", "Start", "GT end", "GT Path"], "range": ["M -3.8 0 L 3.8 0", "triangle-up", "M -0.6 -0.6 L 0.6 -0.6 L 0.6 0.6 L -0.6 0.6 Z", "triangle-up", "M -3.8 0 L 3.8 0"]}},
  "fill": {"datum": "Est End", "type": "nominal", "scale": {"domain": ["Est Path", "Est End", "Start", "GT end", "GT Path"], "range": ["transparent", "transparent", "transparent", "black", "transparent"]}}
 }},
{"data": {"values": [{"e": 0, "n": 0}]},
 "mark": {"type": "point", "strokeWidth": 4, "opacity": 1, "size": 340},
 "encoding": {
  "x": {"field": "e", "type": "quantitative", "axis": null},
  "y": {"field": "n", "type": "quantitative", "axis": null},
  "stroke": {"datum": "Start", "type": "nominal"},
  "shape": {"datum": "Start", "type": "nominal", "scale": {"domain": ["Est Path", "Est End", "Start", "GT end", "GT Path"], "range": ["M -3.8 0 L 3.8 0", "triangle-up", "M -0.6 -0.6 L 0.6 -0.6 L 0.6 0.6 L -0.6 0.6 Z", "triangle-up", "M -3.8 0 L 3.8 0"]}},
  "fill": {"datum": "Start", "type": "nominal", "scale": {"domain": ["Est Path", "Est End", "Start", "GT end", "GT Path"], "range": ["transparent", "transparent", "transparent", "black", "transparent"]}}
 }},
{"data": {"values": [{"e": 0, "n": 42.85}]},
 "mark": {"type": "point", "strokeWidth": 1, "opacity": 1, "size": 230},
 "encoding": {
  "x": {"field": "e", "type": "quantitative", "axis": null},
  "y": {"field": "n", "type": "quantitative", "axis": null},
  "stroke": {"datum": "GT end", "type": "nominal"},
  "shape": {"datum": "GT end", "type": "nominal", "scale": {"domain": ["Est Path", "Est End", "Start", "GT end", "GT Path"], "range": ["M -3.8 0 L 3.8 0", "triangle-up", "M -0.6 -0.6 L 0.6 -0.6 L 0.6 0.6 L -0.6 0.6 Z", "triangle-up", "M -3.8 0 L 3.8 0"]}},
  "fill": {"datum": "GT end", "type": "nominal", "scale": {"domain": ["Est Path", "Est End", "Start", "GT end", "GT Path"], "range": ["transparent", "transparent", "transparent", "black", "transparent"]}}
 }},
{"data": {"values": [{}]},
 "mark": {"type": "text", "text": "RMSE: 0.78 [m]", "align": "right", "baseline": "middle", "fontSize": 24, "font": "Liberation Sans", "color": "black"},
 "encoding": {
  "x": {"datum": 1.85, "type": "quantitative", "scale": {"domain": [-2, 2]}, "axis": {"orient": "top", "values": [-2, -1, 0, 1, 2], "labels": false, "title": null, "domain": false, "minExtent": 0, "maxExtent": 0}},
  "y": {"datum": -0.2, "type": "quantitative", "scale": {"domain": [-5, 50]}, "axis": {"orient": "right", "values": [0, 10, 20, 30, 40, 50], "labels": false, "title": null, "domain": false, "minExtent": 0, "maxExtent": 0}}
 }}
],
"resolve": {"axis": {"x": "independent", "y": "independent"}}
},
{
"width": 435, "height": 332,
"title": {"text": "Experiments", "subtitle": "Horizontal trajectory", "fontSize": 37, "offset": -8, "subtitlePadding": 11},
"layer": [
{"data": {"name": "tr"},
 "mark": {"type": "line", "strokeWidth": 4.5, "strokeJoin": "round", "strokeCap": "round", "color": "#0072BD"},
 "encoding": {
  "x": {"field": "e", "type": "quantitative", "scale": {"domain": [-2, 2]}, "axis": {"values": [-2, -1, 0, 1, 2], "title": "East, m", "labelPadding": 21, "titlePadding": 7}},
  "y": {"field": "n", "type": "quantitative", "scale": {"domain": [-5, 50]}, "axis": {"values": [0, 10, 20, 30, 40, 50], "title": "North, m", "labelPadding": 14.7, "titlePadding": 7.4}},
  "detail": {"field": "t", "type": "nominal"},
  "order": {"value": null}
 }},
{"data": {"values": [{"e": 0, "n": 0}, {"e": 0, "n": 42.21}]},
 "mark": {"type": "line", "strokeWidth": 3.5, "color": "black", "strokeDash": [9, 4]},
 "encoding": {
  "x": {"field": "e", "type": "quantitative", "axis": null},
  "y": {"field": "n", "type": "quantitative", "axis": null},
  "order": {"value": null}
 }},
{"data": {"name": "trEnd"},
 "mark": {"type": "point", "shape": "triangle-up", "size": 300, "filled": false, "stroke": "#D95319", "strokeWidth": 3.5, "opacity": 1},
 "encoding": {
  "x": {"field": "e", "type": "quantitative", "axis": null},
  "y": {"field": "n", "type": "quantitative", "axis": null}
 }},
{"data": {"values": [{"e": 0, "n": 0}]},
 "mark": {"type": "point", "shape": "square", "size": 121, "filled": false, "stroke": "black", "strokeWidth": 4, "opacity": 1},
 "encoding": {
  "x": {"field": "e", "type": "quantitative", "axis": null},
  "y": {"field": "n", "type": "quantitative", "axis": null}
 }},
{"data": {"values": [{"e": 0, "n": 42.21}]},
 "mark": {"type": "point", "shape": "triangle-up", "size": 230, "filled": true, "color": "black", "opacity": 1},
 "encoding": {
  "x": {"field": "e", "type": "quantitative", "axis": null},
  "y": {"field": "n", "type": "quantitative", "axis": null}
 }},
{"data": {"values": [{}]},
 "mark": {"type": "text", "text": "RMSE: 0.83 [m]", "align": "right", "baseline": "middle", "fontSize": 24, "font": "Liberation Sans", "color": "black"},
 "encoding": {
  "x": {"datum": 1.88, "type": "quantitative", "scale": {"domain": [-2, 2]}, "axis": {"orient": "top", "values": [-2, -1, 0, 1, 2], "labels": false, "title": null, "domain": false, "minExtent": 0, "maxExtent": 0}},
  "y": {"datum": 0, "type": "quantitative", "scale": {"domain": [-5, 50]}, "axis": {"orient": "right", "values": [0, 10, 20, 30, 40, 50], "labels": false, "title": null, "domain": false, "minExtent": 0, "maxExtent": 0}}
 }}
],
"resolve": {"axis": {"x": "independent", "y": "independent"}}
}
], "spacing": 92, "bounds": "flush"}
], "spacing": 70, "bounds": "flush"},
{"concat": [
{"hconcat": [
{"width": 1, "height": 1, "data": {"values": []}, "mark": {"type": "point", "opacity": 0}, "view": {"stroke": null}},
{"hconcat": [
{
"width": 426, "height": 425,
"title": "Destination",
"layer": [
{"data": {"name": "tlEnd"},
 "mark": {"type": "point", "shape": "triangle-up", "size": 300, "filled": false, "stroke": "#D95319", "strokeWidth": 3.5, "opacity": 1, "clip": true},
 "encoding": {
  "x": {"field": "e", "type": "quantitative", "scale": {"domain": [-1, 1]}, "axis": {"values": [-1, -0.5, 0, 0.5, 1], "title": "East, m", "labelFontSize": 24, "labelPadding": 22, "titlePadding": 3}},
  "y": {"field": "n", "type": "quantitative", "scale": {"domain": [42, 44]}, "axis": {"values": [42, 42.5, 43, 43.5, 44], "title": "North, m", "labelFontSize": 24, "labelPadding": 11, "titlePadding": 6.3}}
 }},
{"data": {"values": [{"e": 0, "n": 42.85}]},
 "mark": {"type": "point", "shape": "circle", "size": 30450, "filled": false, "stroke": "black", "strokeWidth": 3, "strokeDash": [9, 5], "opacity": 1},
 "encoding": {
  "x": {"field": "e", "type": "quantitative", "axis": null},
  "y": {"field": "n", "type": "quantitative", "axis": null}
 }},
{"data": {"values": [{"e": 0, "n": 42.845}]},
 "mark": {"type": "point", "shape": "triangle-up", "size": 210, "filled": true, "color": "black", "opacity": 1},
 "encoding": {
  "x": {"field": "e", "type": "quantitative", "axis": null},
  "y": {"field": "n", "type": "quantitative", "axis": null}
 }},
{"data": {"values": [{"e": 0.031, "n": 42.816, "e2": 0.281, "n2": 42.565}]},
 "mark": {"type": "rule", "strokeWidth": 1, "color": "black"},
 "encoding": {
  "x": {"field": "e", "type": "quantitative", "axis": null},
  "y": {"field": "n", "type": "quantitative", "axis": null},
  "x2": {"field": "e2"},
  "y2": {"field": "n2"}
 }},
{"data": {"values": [{"e": 0.031, "n": 42.816, "e2": 0.281, "n2": 42.565}]},
 "mark": {"type": "point", "shape": "M -1 -0.7 L 0 0 L -1 0.7", "size": 300, "angle": 45, "filled": false, "stroke": "black", "strokeWidth": 1, "opacity": 1},
 "encoding": {
  "x": {"field": "e2", "type": "quantitative", "axis": null},
  "y": {"field": "n2", "type": "quantitative", "axis": null}
 }},
{"data": {"values": [{"e": 0.031, "n": 42.816, "e2": 0.281, "n2": 42.565}]},
 "mark": {"type": "point", "shape": "M -1 -0.7 L 0 0 L -1 0.7", "size": 300, "angle": 225, "filled": false, "stroke": "black", "strokeWidth": 1, "opacity": 1},
 "encoding": {
  "x": {"field": "e", "type": "quantitative", "axis": null},
  "y": {"field": "n", "type": "quantitative", "axis": null}
 }},
{"data": {"values": [{}]},
 "mark": {"type": "text", "text": "Horizontal CEP: 0.41 [m]", "align": "right", "baseline": "middle", "fontSize": 24, "font": "Liberation Sans", "color": "black"},
 "encoding": {
  "x": {"datum": 0.888, "type": "quantitative", "scale": {"domain": [-1, 1]}, "axis": {"orient": "top", "values": [-1, -0.5, 0, 0.5, 1], "labels": false, "title": null, "domain": false, "minExtent": 0, "maxExtent": 0}},
  "y": {"datum": 42.107, "type": "quantitative", "scale": {"domain": [42, 44]}, "axis": {"orient": "right", "values": [42, 42.5, 43, 43.5, 44], "labels": false, "title": null, "domain": false, "minExtent": 0, "maxExtent": 0}}
 }}
],
"resolve": {"axis": {"x": "independent", "y": "independent"}}
},
{
"width": 426, "height": 425,
"title": "Destination",
"layer": [
{"data": {"name": "trEnd"},
 "mark": {"type": "point", "shape": "triangle-up", "size": 300, "filled": false, "stroke": "#D95319", "strokeWidth": 3.5, "opacity": 1, "clip": true},
 "encoding": {
  "x": {"field": "e", "type": "quantitative", "scale": {"domain": [-1, 1]}, "axis": {"values": [-1, -0.5, 0, 0.5, 1], "title": "East, m", "labelFontSize": 24, "labelPadding": 22, "titlePadding": 3}},
  "y": {"field": "n", "type": "quantitative", "scale": {"domain": [41, 43]}, "axis": {"values": [41, 41.5, 42, 42.5, 43], "title": "North, m", "labelFontSize": 24, "labelPadding": 11.7, "titlePadding": -2}}
 }},
{"data": {"values": [{"e": -0.01, "n": 42.215}]},
 "mark": {"type": "point", "shape": "circle", "size": 75350, "filled": false, "stroke": "black", "strokeWidth": 3, "strokeDash": [9, 5], "opacity": 1},
 "encoding": {
  "x": {"field": "e", "type": "quantitative", "axis": null},
  "y": {"field": "n", "type": "quantitative", "axis": null}
 }},
{"data": {"values": [{"e": -0.012, "n": 42.205}]},
 "mark": {"type": "point", "shape": "triangle-up", "size": 210, "filled": true, "color": "black", "opacity": 1},
 "encoding": {
  "x": {"field": "e", "type": "quantitative", "axis": null},
  "y": {"field": "n", "type": "quantitative", "axis": null}
 }},
{"data": {"values": [{"e": -0.458, "n": 42.663, "e2": -0.015, "n2": 42.222}]},
 "mark": {"type": "rule", "strokeWidth": 1, "color": "black"},
 "encoding": {
  "x": {"field": "e", "type": "quantitative", "axis": null},
  "y": {"field": "n", "type": "quantitative", "axis": null},
  "x2": {"field": "e2"},
  "y2": {"field": "n2"}
 }},
{"data": {"values": [{"e": -0.458, "n": 42.663, "e2": -0.015, "n2": 42.222}]},
 "mark": {"type": "point", "shape": "M -1 -0.7 L 0 0 L -1 0.7", "size": 300, "angle": 45, "filled": false, "stroke": "black", "strokeWidth": 1, "opacity": 1},
 "encoding": {
  "x": {"field": "e2", "type": "quantitative", "axis": null},
  "y": {"field": "n2", "type": "quantitative", "axis": null}
 }},
{"data": {"values": [{"e": -0.458, "n": 42.663, "e2": -0.015, "n2": 42.222}]},
 "mark": {"type": "point", "shape": "M -1 -0.7 L 0 0 L -1 0.7", "size": 300, "angle": 225, "filled": false, "stroke": "black", "strokeWidth": 1, "opacity": 1},
 "encoding": {
  "x": {"field": "e", "type": "quantitative", "axis": null},
  "y": {"field": "n", "type": "quantitative", "axis": null}
 }},
{"data": {"values": [{}]},
 "mark": {"type": "text", "text": "Horizontal CEP: 0.69 [m]", "align": "right", "baseline": "middle", "fontSize": 24, "font": "Liberation Sans", "color": "black"},
 "encoding": {
  "x": {"datum": 0.95, "type": "quantitative", "scale": {"domain": [-1, 1]}, "axis": {"orient": "top", "values": [-1, -0.5, 0, 0.5, 1], "labels": false, "title": null, "domain": false, "minExtent": 0, "maxExtent": 0}},
  "y": {"datum": 41.113, "type": "quantitative", "scale": {"domain": [41, 43]}, "axis": {"orient": "right", "values": [41, 41.5, 42, 42.5, 43], "labels": false, "title": null, "domain": false, "minExtent": 0, "maxExtent": 0}}
 }}
],
"resolve": {"axis": {"x": "independent", "y": "independent"}}
}
], "spacing": 89, "bounds": "flush"}
], "spacing": 85, "bounds": "flush"},
{"hconcat": [
{"width": 1, "height": 1, "data": {"values": []}, "mark": {"type": "point", "opacity": 0}, "view": {"stroke": null}},
{"hconcat": [
{
"width": 430, "height": 338,
"title": "Vertical trajectory",
"layer": [
{"data": {"name": "bl"},
 "mark": {"type": "line", "strokeWidth": 6, "strokeJoin": "round", "strokeCap": "round", "color": "#0072BD", "interpolate": "monotone"},
 "encoding": {
  "x": {"field": "n", "type": "quantitative", "scale": {"domain": [-5, 50]}, "axis": {"values": [0, 10, 20, 30, 40, 50], "title": "North, m", "labelFontSize": 24, "labelPadding": 20.3, "titlePadding": 7}},
  "y": {"field": "d", "type": "quantitative", "scale": {"domain": [-1, 1]}, "axis": {"values": [-1, -0.5, 0, 0.5, 1], "title": "Down, m", "labelFontSize": 24, "labelPadding": 14.3, "titlePadding": 11.6}},
  "order": {"value": null}
 }},
{"data": {"name": "blEnd"},
 "mark": {"type": "point", "shape": "triangle-up", "size": 300, "filled": false, "stroke": "#D95319", "strokeWidth": 3.5, "opacity": 1},
 "encoding": {
  "x": {"field": "n", "type": "quantitative", "axis": null},
  "y": {"field": "d", "type": "quantitative", "axis": null}
 }},
{"data": {"values": [{"n": 0, "d": 0}]},
 "mark": {"type": "point", "shape": "square", "size": 121, "filled": false, "stroke": "black", "strokeWidth": 4, "opacity": 1},
 "encoding": {
  "x": {"field": "n", "type": "quantitative", "axis": null},
  "y": {"field": "d", "type": "quantitative", "axis": null}
 }},
{"data": {"values": [{}]},
 "mark": {"type": "text", "text": "⊥RMSE: 0.44 [m]", "align": "right", "baseline": "middle", "fontSize": 24, "font": "Liberation Sans", "color": "black"},
 "encoding": {
  "x": {"datum": 46.06, "type": "quantitative", "scale": {"domain": [-5, 50]}, "axis": {"orient": "top", "values": [0, 10, 20, 30, 40, 50], "labels": false, "title": null, "domain": false, "minExtent": 0, "maxExtent": 0}},
  "y": {"datum": -0.827, "type": "quantitative", "scale": {"domain": [-1, 1]}, "axis": {"orient": "right", "values": [-1, -0.5, 0, 0.5, 1], "labels": false, "title": null, "domain": false, "minExtent": 0, "maxExtent": 0}}
 }}
],
"resolve": {"axis": {"x": "independent", "y": "independent"}}
},
{
"width": 430, "height": 339,
"title": "Vertical trajectory",
"layer": [
{"data": {"name": "brCore"},
 "mark": {"type": "area", "color": "#0072BD", "opacity": 1},
 "encoding": {
  "x": {"field": "n", "type": "quantitative", "scale": {"domain": [-5, 50]}, "axis": {"values": [0, 10, 20, 30, 40, 50], "title": "North, m", "labelFontSize": 24, "labelPadding": 20.3, "titlePadding": 7}},
  "y": {"field": "lo", "type": "quantitative", "scale": {"domain": [-1, 1]}, "axis": {"values": [-1, -0.5, 0, 0.5, 1], "title": "Down, m", "labelFontSize": 24, "labelPadding": 15.3, "titlePadding": -6}},
  "y2": {"field": "hi"}
 }},
{"data": {"name": "br"},
 "mark": {"type": "line", "strokeWidth": 4.5, "strokeJoin": "round", "strokeCap": "round", "color": "#0072BD"},
 "encoding": {
  "x": {"field": "n", "type": "quantitative", "axis": null},
  "y": {"field": "d", "type": "quantitative", "axis": null},
  "detail": {"field": "t", "type": "nominal"},
  "order": {"value": null}
 }},
{"data": {"name": "trEnd"},
 "mark": {"type": "point", "shape": "triangle-up", "size": 300, "filled": false, "stroke": "#D95319", "strokeWidth": 3.5, "opacity": 1},
 "encoding": {
  "x": {"field": "n", "type": "quantitative", "axis": null},
  "y": {"field": "d", "type": "quantitative", "axis": null}
 }},
{"data": {"values": [{"n": 0, "d": 0}]},
 "mark": {"type": "point", "shape": "square", "size": 121, "filled": false, "stroke": "black", "strokeWidth": 4, "opacity": 1},
 "encoding": {
  "x": {"field": "n", "type": "quantitative", "axis": null},
  "y": {"field": "d", "type": "quantitative", "axis": null}
 }},
{"data": {"values": [{}]},
 "mark": {"type": "text", "text": "⊥ RMSE: 0.41 [m]", "align": "right", "baseline": "middle", "fontSize": 24, "font": "Liberation Sans", "color": "black"},
 "encoding": {
  "x": {"datum": 48.5, "type": "quantitative", "scale": {"domain": [-5, 50]}, "axis": {"orient": "top", "values": [0, 10, 20, 30, 40, 50], "labels": false, "title": null, "domain": false, "minExtent": 0, "maxExtent": 0}},
  "y": {"datum": -0.827, "type": "quantitative", "scale": {"domain": [-1, 1]}, "axis": {"orient": "right", "values": [-1, -0.5, 0, 0.5, 1], "labels": false, "title": null, "domain": false, "minExtent": 0, "maxExtent": 0}}
 }}
],
"resolve": {"axis": {"x": "independent", "y": "independent"}}
}
], "spacing": 79, "bounds": "flush"}
], "spacing": 88.3, "bounds": "flush"}
], "columns": 1, "spacing": 12}
],
"columns": 1,
"spacing": 4,
"config": {
 "font": "Liberation Sans",
 "locale": {"number": {"decimal": ".", "thousands": ",", "grouping": [3], "currency": ["$", ""], "minus": "-"}},
 "view": {"stroke": "#262626", "strokeWidth": 1.3},
 "axis": {"grid": false, "domain": false, "format": "~r", "labelFont": "Liberation Sans", "labelFontSize": 23, "labelColor": "#262626", "titleFont": "Liberation Sans", "titleFontSize": 25, "titleFontWeight": "normal", "titleColor": "#262626", "tickColor": "#262626", "tickSize": -5, "tickWidth": 1.2, "labelFlush": false, "labelOverlap": false},
 "axisX": {"labelPadding": 19, "titlePadding": 8},
 "axisY": {"labelPadding": 14, "titlePadding": 10},
 "title": {"font": "Liberation Sans", "fontSize": 25.5, "fontWeight": "bold", "color": "black", "anchor": "middle", "frame": "group", "offset": -5, "subtitleFont": "Liberation Sans", "subtitleFontSize": 25.5, "subtitleFontWeight": "bold", "subtitleColor": "black", "subtitlePadding": 6}
}
}
